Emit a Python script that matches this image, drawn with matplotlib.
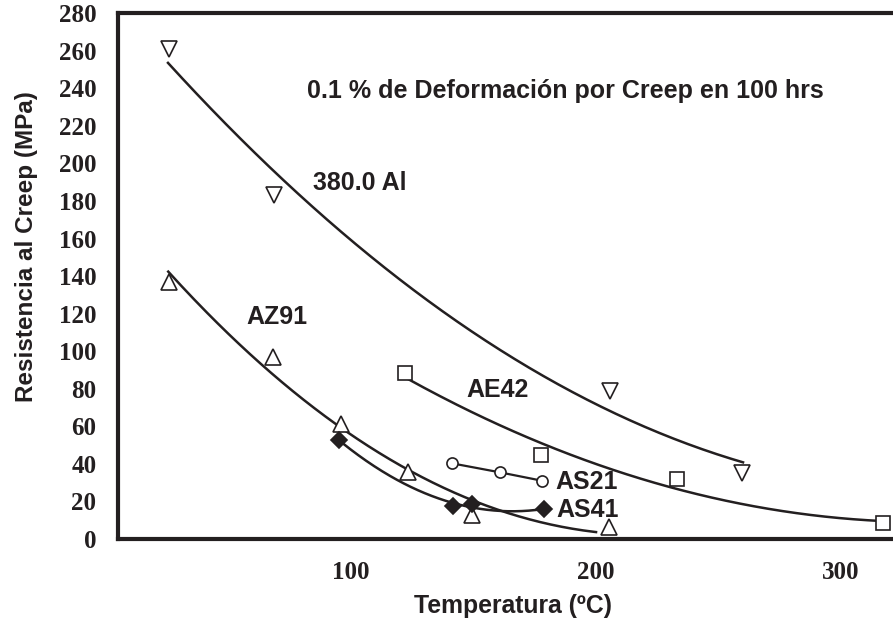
import numpy as np
import matplotlib
matplotlib.use("Agg")
import matplotlib.pyplot as plt

INK = "#231f20"

# Temperature (ºC) and creep strength (MPa) for each alloy
al380_t = [25.7, 68.6, 205.7, 259.6]
al380_s = [261.0, 183.0, 79.0, 35.0]

az91_t = [25.7, 68.3, 95.9, 123.1, 149.3, 205.3]
az91_s = [137.0, 96.7, 61.2, 35.5, 12.6, 6.5]

ae42_t = [122.2, 177.4, 232.9, 317.0]
ae42_s = [88.2, 45.0, 31.8, 8.4]

as21_t = [141.2, 160.8, 178.1]
as21_s = [40.3, 35.5, 31.0]

as41_t = [95.1, 141.5, 149.3, 178.8]
as41_s = [52.7, 17.6, 18.6, 15.8]

# Temperature span covered by each trend curve
al380_span = (25.3, 260.0)
az91_span = (25.4, 200.0)
ae42_span = (123.0, 314.6)
as41_span = (96.5, 177.0)

y_ticks = [0, 20, 40, 60, 80, 100, 120, 140, 160, 180, 200, 220, 240, 260, 280]
x_ticks = [100, 200, 300]

W, H = 893, 620
fig = plt.figure(figsize=(W / 100, H / 100), dpi=100)
ax = fig.add_axes([118 / W, 1 - 539 / H, 1 - 118 / W, (539 - 13.3) / H])
ax.set_xlim(4.9, 321.2)
ax.set_ylim(0, 280)

LW = 1.8


def trend(t, s, span, deg=2):
    coef = np.polyfit(t, s, deg)
    xs = np.linspace(span[0], span[1], 200)
    ax.plot(xs, np.polyval(coef, xs), color=INK, lw=LW, zorder=2)


trend(al380_t, al380_s, al380_span)
trend(az91_t, az91_s, az91_span)
trend(ae42_t, ae42_s, ae42_span)
trend(as41_t, as41_s, as41_span)
ax.plot(as21_t, as21_s, color=INK, lw=1.6, zorder=2)

mk = dict(linestyle="none", markeredgecolor=INK, markeredgewidth=1.2, zorder=3)
ax.plot(al380_t, al380_s, marker="v", ms=11.5, markerfacecolor="white", **mk)
ax.plot(az91_t, az91_s, marker="^", ms=11.5, markerfacecolor="white", **mk)
ax.plot(ae42_t, ae42_s, marker="s", ms=10, markerfacecolor="white", **mk)
ax.plot(as21_t, as21_s, marker="o", ms=8, markerfacecolor="white", **mk)
ax.plot(as41_t, as41_s, marker="D", ms=8.5, markerfacecolor=INK, **mk)

SANS = dict(family="Liberation Sans", weight="bold", color=INK)


def px_text(px, py, s, size=18, ha="left", rotation=0):
    fig.text(px / W, 1 - py / H, s, ha=ha, va="center", rotation=rotation,
             fontsize=size, **SANS)


px_text(565, 91, "0.1 % de Deformación por Creep en 100 hrs", ha="center")
px_text(313, 183, "380.0 Al")
px_text(246, 317, "AZ91")
px_text(466, 390, "AE42")
px_text(555, 482, "AS21")
px_text(556, 510, "AS41")

# axis titles
px_text(513, 606, "Temperatura (ºC)", size=17.8, ha="center")
px_text(27, 247, "Resistencia al Creep (MPa)", size=17.5, ha="center", rotation=90)

ax.set_yticks(y_ticks)
ax.set_xticks(x_ticks)
ax.tick_params(length=0, labelsize=18, colors=INK, pad=15.5)
for t in ax.get_xticklabels() + ax.get_yticklabels():
    t.set_family("Liberation Serif")
    t.set_weight("bold")

for side in ("left", "bottom", "top"):
    ax.spines[side].set_linewidth(3)
    ax.spines[side].set_color(INK)
ax.spines["right"].set_visible(False)

fig.savefig("out.png", dpi=100)
